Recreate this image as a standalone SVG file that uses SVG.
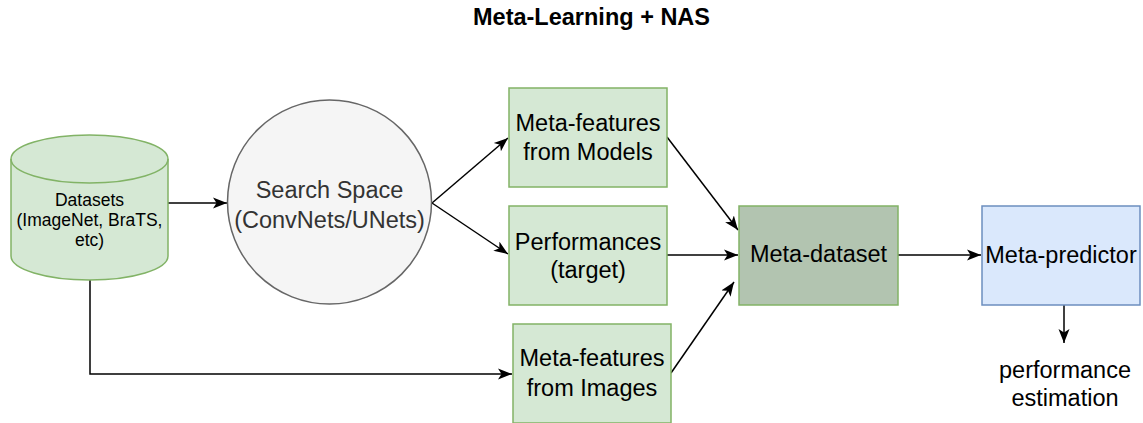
<svg xmlns="http://www.w3.org/2000/svg" width="1143" height="423" viewBox="0 0 1143 423">
<style>
  text { font-family: "Liberation Sans", Arial, sans-serif; text-anchor: middle; dominant-baseline: central; fill: #000; }
  .big { font-size: 23.5px; }
  .small { font-size: 17.5px; }
  .title { font-size: 23.5px; font-weight: bold; }
  .green { fill: #d5e8d4; stroke: #82b366; stroke-width: 1.5; }
  .dark { fill: #b2c4b0; stroke: #82b366; stroke-width: 1.5; }
  .blue { fill: #dae8fc; stroke: #6c8ebf; stroke-width: 1.5; }
  .grey { fill: #f5f5f5; stroke: #666666; stroke-width: 1.5; }
  .edge { fill: none; stroke: #000; stroke-width: 1.5; marker-end: url(#arr); }
</style>
<defs>
  <marker id="arr" markerWidth="16" markerHeight="12" refX="14" refY="6" orient="auto" markerUnits="userSpaceOnUse">
    <path d="M0,0.5 L14,6 L0,11.5 L3.5,6 Z" fill="#000"/>
  </marker>
</defs>
<rect width="1143" height="423" fill="#fff"/>
<text class="title" x="591.5" y="17">Meta-Learning + NAS</text>

<g id="connectors">
  <path class="edge" d="M168,203 L227,203"/>
  <path class="edge" d="M432,203 L508,138"/>
  <path class="edge" d="M432,203 L508,254"/>
  <path class="edge" d="M667,137 L738,230"/>
  <path class="edge" d="M667,255 L738,255"/>
  <path class="edge" d="M671,373 L734,282"/>
  <path class="edge" d="M898,255 L981,255"/>
  <path class="edge" d="M1064,305 L1064,343"/>
  <path class="edge" d="M90,280 L90,374 L512,374"/>
</g>

<g id="datasets">
  <path class="green" d="M11,159 A78.5,24 0 0 1 168,159 L168,256 A78.5,24 0 0 1 11,256 Z"/>
  <path class="green" style="fill:none" d="M11,159 A78.5,24 0 0 0 168,159"/>
  <text class="small" x="89.5" y="200">Datasets</text>
  <text class="small" x="89.5" y="220">(ImageNet, BraTS,</text>
  <text class="small" x="89.5" y="240">etc)</text>
</g>

<g id="search-space">
  <circle class="grey" cx="329.5" cy="202" r="102"/>
  <text class="big" x="329.5" y="190" style="fill:#333">Search Space</text>
  <text class="big" x="329.5" y="220" style="fill:#333">(ConvNets/UNets)</text>
</g>

<g id="mf-models">
  <rect class="green" x="509" y="88" width="158" height="99"/>
  <text class="big" x="588" y="123">Meta-features</text>
  <text class="big" x="588" y="152">from Models</text>
</g>

<g id="performances">
  <rect class="green" x="509" y="206" width="158" height="99"/>
  <text class="big" x="588" y="242">Performances</text>
  <text class="big" x="588" y="270">(target)</text>
</g>

<g id="mf-images">
  <rect class="green" x="513" y="324" width="158" height="99"/>
  <text class="big" x="592" y="358">Meta-features</text>
  <text class="big" x="592" y="388">from Images</text>
</g>

<g id="meta-dataset">
  <rect class="dark" x="739" y="206" width="159" height="99"/>
  <text class="big" x="818.5" y="254">Meta-dataset</text>
</g>

<g id="meta-predictor">
  <rect class="blue" x="982" y="206" width="158" height="99"/>
  <text class="big" x="1061" y="255">Meta-predictor</text>
</g>

<g id="estimation">
  <text class="big" x="1065" y="370">performance</text>
  <text class="big" x="1065" y="398">estimation</text>
</g>
</svg>
